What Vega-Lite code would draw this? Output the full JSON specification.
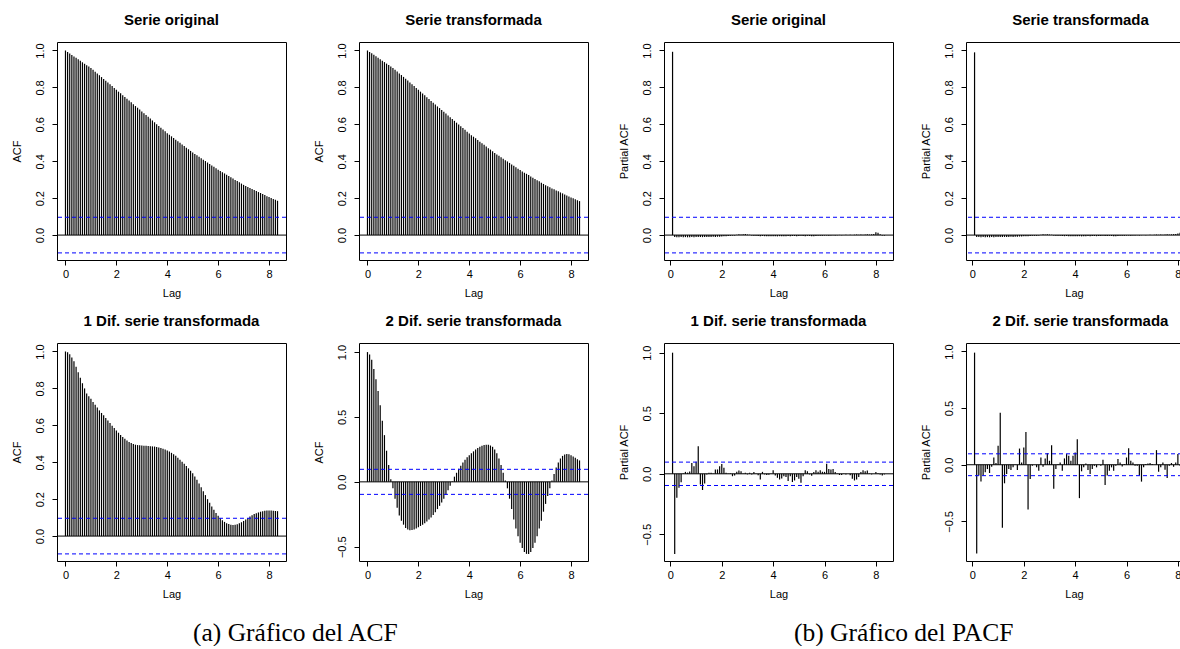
{
 "$schema": "https://vega.github.io/schema/vega-lite/v6.json",
 "background": "white",
 "autosize": {"type": "pad"},
 "padding": {"left": 10, "top": 12, "right": 0, "bottom": 0},
 "datasets": {
  "zero": [{"v": 0}],
  "ci": [{"v": 0.0965}, {"v": -0.0965}],
  "d": [
   {"lag":0,"a1":1.000,"a2":1.000,"a5":1.000,"a6":1.000},
   {"lag":0.0833,"a1":0.992,"a2":0.992,"a5":0.996,"a6":0.982,"p3":0.993,"p4":0.990,"p7":1.0,"p8":0.99},
   {"lag":0.1667,"a1":0.984,"a2":0.985,"a5":0.985,"a6":0.940,"p3":-0.011,"p4":-0.010,"p7":-0.663,"p8":-0.784},
   {"lag":0.25,"a1":0.976,"a2":0.977,"a5":0.968,"a6":0.870,"p3":-0.012,"p4":-0.011,"p7":-0.197,"p8":-0.096},
   {"lag":0.3333,"a1":0.968,"a2":0.969,"a5":0.947,"a6":0.790,"p3":-0.012,"p4":-0.012,"p7":-0.115,"p8":-0.149},
   {"lag":0.4167,"a1":0.960,"a2":0.961,"a5":0.918,"a6":0.700,"p3":-0.011,"p4":-0.011,"p7":-0.07,"p8":-0.096},
   {"lag":0.5,"a1":0.952,"a2":0.953,"a5":0.888,"a6":0.590,"p3":-0.012,"p4":-0.012,"p7":0.005,"p8":-0.067},
   {"lag":0.5833,"a1":0.944,"a2":0.945,"a5":0.858,"a6":0.470,"p3":-0.011,"p4":-0.011,"p7":0.016,"p8":-0.038},
   {"lag":0.6667,"a1":0.936,"a2":0.937,"a5":0.828,"a6":0.360,"p3":-0.012,"p4":-0.012,"p7":0.01,"p8":-0.073},
   {"lag":0.75,"a1":0.928,"a2":0.929,"a5":0.800,"a6":0.240,"p3":-0.012,"p4":-0.011,"p7":0.02,"p8":-0.018},
   {"lag":0.8333,"a1":0.920,"a2":0.921,"a5":0.773,"a6":0.130,"p3":-0.011,"p4":-0.012,"p7":0.09,"p8":0.064},
   {"lag":0.9167,"a1":0.913,"a2":0.913,"a5":0.758,"a6":0.020,"p3":-0.012,"p4":-0.011,"p7":0.063,"p8":0.015},
   {"lag":1,"a1":0.905,"a2":0.905,"a5":0.744,"a6":-0.050,"p3":-0.011,"p4":-0.011,"p7":0.1,"p8":0.167},
   {"lag":1.0833,"a1":0.895,"a2":0.896,"a5":0.727,"a6":-0.130,"p3":-0.011,"p4":-0.010,"p7":0.227,"p8":0.459},
   {"lag":1.1667,"a1":0.885,"a2":0.886,"a5":0.711,"a6":-0.200,"p3":-0.010,"p4":-0.011,"p7":-0.088,"p8":-0.556},
   {"lag":1.25,"a1":0.876,"a2":0.876,"a5":0.696,"a6":-0.260,"p3":-0.011,"p4":-0.010,"p7":-0.134,"p8":-0.164},
   {"lag":1.3333,"a1":0.866,"a2":0.867,"a5":0.681,"a6":-0.300,"p3":-0.010,"p4":-0.010,"p7":-0.08,"p8":-0.082},
   {"lag":1.4167,"a1":0.856,"a2":0.857,"a5":0.667,"a6":-0.330,"p3":-0.011,"p4":-0.010,"p7":-0.005,"p8":-0.038},
   {"lag":1.5,"a1":0.846,"a2":0.847,"a5":0.654,"a6":-0.355,"p3":-0.010,"p4":-0.009,"p7":0.008,"p8":-0.047},
   {"lag":1.5833,"a1":0.836,"a2":0.837,"a5":0.640,"a6":-0.368,"p3":-0.010,"p4":-0.010,"p7":0.008,"p8":-0.023},
   {"lag":1.6667,"a1":0.826,"a2":0.827,"a5":0.626,"a6":-0.373,"p3":-0.009,"p4":-0.009,"p7":0.003,"p8":-0.003},
   {"lag":1.75,"a1":0.817,"a2":0.817,"a5":0.612,"a6":-0.372,"p3":-0.010,"p4":-0.009,"p7":0.036,"p8":-0.047},
   {"lag":1.8333,"a1":0.807,"a2":0.807,"a5":0.598,"a6":-0.368,"p3":-0.009,"p4":-0.008,"p7":0.036,"p8":0.143},
   {"lag":1.9167,"a1":0.797,"a2":0.797,"a5":0.585,"a6":-0.360,"p3":-0.009,"p4":-0.008,"p7":0.063,"p8":0.02},
   {"lag":2,"a1":0.787,"a2":0.787,"a5":0.572,"a6":-0.350,"p3":-0.008,"p4":-0.007,"p7":0.08,"p8":0.152},
   {"lag":2.0833,"a1":0.777,"a2":0.777,"a5":0.560,"a6":-0.340,"p3":-0.007,"p4":-0.007,"p7":0.05,"p8":0.289},
   {"lag":2.1667,"a1":0.768,"a2":0.767,"a5":0.548,"a6":-0.330,"p3":-0.006,"p4":-0.006,"p7":0.008,"p8":-0.395},
   {"lag":2.25,"a1":0.758,"a2":0.757,"a5":0.537,"a6":-0.320,"p3":-0.005,"p4":-0.005,"p7":0.003,"p8":-0.126},
   {"lag":2.3333,"a1":0.748,"a2":0.747,"a5":0.527,"a6":-0.305,"p3":-0.004,"p4":-0.004,"p7":0.005,"p8":-0.009},
   {"lag":2.4167,"a1":0.738,"a2":0.737,"a5":0.518,"a6":-0.290,"p3":-0.003,"p4":-0.004,"p7":-0.02,"p8":0.0},
   {"lag":2.5,"a1":0.729,"a2":0.727,"a5":0.510,"a6":-0.275,"p3":-0.002,"p4":-0.003,"p7":-0.015,"p8":-0.023},
   {"lag":2.5833,"a1":0.719,"a2":0.717,"a5":0.504,"a6":-0.255,"p3":0.002,"p4":-0.002,"p7":0.016,"p8":-0.053},
   {"lag":2.6667,"a1":0.709,"a2":0.707,"a5":0.499,"a6":-0.235,"p3":0.005,"p4":0.002,"p7":0.027,"p8":0.064},
   {"lag":2.75,"a1":0.699,"a2":0.697,"a5":0.495,"a6":-0.210,"p3":0.003,"p4":0.004,"p7":0.022,"p8":-0.018},
   {"lag":2.8333,"a1":0.690,"a2":0.688,"a5":0.493,"a6":-0.185,"p3":0.004,"p4":0.003,"p7":0.003,"p8":0.056},
   {"lag":2.9167,"a1":0.680,"a2":0.678,"a5":0.492,"a6":-0.160,"p3":0.006,"p4":0.005,"p7":0.008,"p8":0.102},
   {"lag":3,"a1":0.670,"a2":0.668,"a5":0.491,"a6":-0.130,"p3":0.003,"p4":0.003,"p7":-0.005,"p8":0.035},
   {"lag":3.0833,"a1":0.660,"a2":0.658,"a5":0.490,"a6":-0.100,"p3":0.002,"p4":0.002,"p7":0.008,"p8":0.173},
   {"lag":3.1667,"a1":0.650,"a2":0.648,"a5":0.489,"a6":-0.065,"p3":-0.002,"p4":-0.002,"p7":-0.005,"p8":-0.213},
   {"lag":3.25,"a1":0.641,"a2":0.639,"a5":0.488,"a6":-0.030,"p3":-0.003,"p4":-0.003,"p7":0.014,"p8":-0.038},
   {"lag":3.3333,"a1":0.631,"a2":0.629,"a5":0.487,"a6":0.005,"p3":-0.004,"p4":-0.004,"p7":0.003,"p8":0.006},
   {"lag":3.4167,"a1":0.621,"a2":0.619,"a5":0.486,"a6":0.040,"p3":-0.005,"p4":-0.004,"p7":-0.012,"p8":0.02},
   {"lag":3.5,"a1":0.611,"a2":0.609,"a5":0.485,"a6":0.070,"p3":-0.006,"p4":-0.005,"p7":-0.047,"p8":-0.053},
   {"lag":3.5833,"a1":0.601,"a2":0.599,"a5":0.483,"a6":0.100,"p3":-0.005,"p4":-0.006,"p7":0.016,"p8":0.056},
   {"lag":3.6667,"a1":0.591,"a2":0.589,"a5":0.480,"a6":0.125,"p3":-0.006,"p4":-0.005,"p7":-0.005,"p8":0.094},
   {"lag":3.75,"a1":0.582,"a2":0.580,"a5":0.477,"a6":0.150,"p3":-0.007,"p4":-0.006,"p7":-0.01,"p8":0.079},
   {"lag":3.8333,"a1":0.572,"a2":0.570,"a5":0.473,"a6":0.170,"p3":-0.006,"p4":-0.007,"p7":-0.008,"p8":0.035},
   {"lag":3.9167,"a1":0.562,"a2":0.560,"a5":0.469,"a6":0.190,"p3":-0.007,"p4":-0.006,"p7":0.003,"p8":0.079},
   {"lag":4,"a1":0.552,"a2":0.550,"a5":0.464,"a6":0.205,"p3":-0.006,"p4":-0.006,"p7":0.03,"p8":0.108},
   {"lag":4.0833,"a1":0.543,"a2":0.541,"a5":0.458,"a6":0.220,"p3":-0.007,"p4":-0.007,"p7":-0.015,"p8":0.225},
   {"lag":4.1667,"a1":0.535,"a2":0.533,"a5":0.451,"a6":0.235,"p3":-0.007,"p4":-0.006,"p7":-0.033,"p8":-0.295},
   {"lag":4.25,"a1":0.526,"a2":0.524,"a5":0.443,"a6":0.250,"p3":-0.006,"p4":-0.007,"p7":-0.047,"p8":-0.058},
   {"lag":4.3333,"a1":0.517,"a2":0.515,"a5":0.435,"a6":0.260,"p3":-0.007,"p4":-0.006,"p7":-0.038,"p8":-0.023},
   {"lag":4.4167,"a1":0.508,"a2":0.506,"a5":0.425,"a6":0.270,"p3":-0.006,"p4":-0.006,"p7":-0.02,"p8":0.012},
   {"lag":4.5,"a1":0.500,"a2":0.498,"a5":0.414,"a6":0.278,"p3":-0.006,"p4":-0.005,"p7":-0.027,"p8":-0.047},
   {"lag":4.5833,"a1":0.491,"a2":0.489,"a5":0.403,"a6":0.283,"p3":-0.005,"p4":-0.006,"p7":-0.06,"p8":-0.082},
   {"lag":4.6667,"a1":0.482,"a2":0.480,"a5":0.392,"a6":0.286,"p3":-0.006,"p4":-0.005,"p7":-0.02,"p8":-0.038},
   {"lag":4.75,"a1":0.473,"a2":0.471,"a5":0.380,"a6":0.285,"p3":-0.005,"p4":-0.005,"p7":-0.068,"p8":-0.009},
   {"lag":4.8333,"a1":0.465,"a2":0.463,"a5":0.367,"a6":0.280,"p3":-0.005,"p4":-0.006,"p7":-0.055,"p8":-0.023},
   {"lag":4.9167,"a1":0.456,"a2":0.454,"a5":0.354,"a6":0.270,"p3":-0.006,"p4":-0.005,"p7":-0.027,"p8":0.0},
   {"lag":5,"a1":0.447,"a2":0.445,"a5":0.340,"a6":0.250,"p3":-0.005,"p4":-0.005,"p7":-0.04,"p8":-0.009},
   {"lag":5.0833,"a1":0.439,"a2":0.437,"a5":0.323,"a6":0.220,"p3":-0.004,"p4":-0.004,"p7":-0.074,"p8":0.044},
   {"lag":5.1667,"a1":0.432,"a2":0.430,"a5":0.305,"a6":0.180,"p3":-0.005,"p4":-0.005,"p7":-0.02,"p8":-0.178},
   {"lag":5.25,"a1":0.424,"a2":0.422,"a5":0.285,"a6":0.130,"p3":-0.006,"p4":-0.005,"p7":0.03,"p8":-0.096},
   {"lag":5.3333,"a1":0.416,"a2":0.414,"a5":0.264,"a6":0.070,"p3":-0.004,"p4":-0.004,"p7":0.022,"p8":-0.053},
   {"lag":5.4167,"a1":0.408,"a2":0.406,"a5":0.243,"a6":0.010,"p3":-0.005,"p4":-0.005,"p7":-0.005,"p8":-0.023},
   {"lag":5.5,"a1":0.401,"a2":0.399,"a5":0.222,"a6":-0.050,"p3":-0.006,"p4":-0.006,"p7":-0.016,"p8":-0.053},
   {"lag":5.5833,"a1":0.393,"a2":0.391,"a5":0.200,"a6":-0.130,"p3":-0.007,"p4":-0.006,"p7":0.014,"p8":-0.009},
   {"lag":5.6667,"a1":0.385,"a2":0.383,"a5":0.180,"a6":-0.210,"p3":-0.005,"p4":-0.005,"p7":0.03,"p8":0.05},
   {"lag":5.75,"a1":0.377,"a2":0.375,"a5":0.160,"a6":-0.290,"p3":-0.004,"p4":-0.004,"p7":0.016,"p8":0.02},
   {"lag":5.8333,"a1":0.370,"a2":0.368,"a5":0.142,"a6":-0.360,"p3":-0.003,"p4":-0.004,"p7":0.03,"p8":-0.015},
   {"lag":5.9167,"a1":0.362,"a2":0.360,"a5":0.125,"a6":-0.420,"p3":-0.004,"p4":-0.003,"p7":0.016,"p8":0.006},
   {"lag":6,"a1":0.354,"a2":0.352,"a5":0.110,"a6":-0.470,"p3":-0.003,"p4":-0.003,"p7":0.016,"p8":0.064},
   {"lag":6.0833,"a1":0.347,"a2":0.345,"a5":0.097,"a6":-0.510,"p3":-0.002,"p4":-0.002,"p7":0.082,"p8":0.146},
   {"lag":6.1667,"a1":0.340,"a2":0.338,"a5":0.086,"a6":-0.540,"p3":-0.003,"p4":-0.003,"p7":0.04,"p8":0.035},
   {"lag":6.25,"a1":0.334,"a2":0.332,"a5":0.077,"a6":-0.555,"p3":-0.002,"p4":-0.002,"p7":0.036,"p8":0.02},
   {"lag":6.3333,"a1":0.327,"a2":0.325,"a5":0.070,"a6":-0.556,"p3":-0.001,"p4":-0.002,"p7":0.04,"p8":-0.009},
   {"lag":6.4167,"a1":0.320,"a2":0.318,"a5":0.065,"a6":-0.540,"p3":-0.002,"p4":-0.001,"p7":0.014,"p8":-0.009},
   {"lag":6.5,"a1":0.313,"a2":0.311,"a5":0.061,"a6":-0.510,"p3":-0.001,"p4":-0.002,"p7":0.003,"p8":-0.096},
   {"lag":6.5833,"a1":0.306,"a2":0.304,"a5":0.060,"a6":-0.470,"p3":0.001,"p4":-0.001,"p7":-0.01,"p8":-0.149},
   {"lag":6.6667,"a1":0.299,"a2":0.297,"a5":0.061,"a6":-0.420,"p3":-0.001,"p4":0.001,"p7":-0.01,"p8":-0.023},
   {"lag":6.75,"a1":0.293,"a2":0.291,"a5":0.064,"a6":-0.360,"p3":0.001,"p4":-0.001,"p7":0.003,"p8":0.006},
   {"lag":6.8333,"a1":0.286,"a2":0.284,"a5":0.069,"a6":-0.300,"p3":0.002,"p4":0.001,"p7":-0.005,"p8":0.012},
   {"lag":6.9167,"a1":0.279,"a2":0.277,"a5":0.075,"a6":-0.230,"p3":0.001,"p4":0.002,"p7":0.0,"p8":0.015},
   {"lag":7,"a1":0.272,"a2":0.270,"a5":0.082,"a6":-0.170,"p3":0.002,"p4":0.001,"p7":-0.012,"p8":0.006},
   {"lag":7.0833,"a1":0.266,"a2":0.264,"a5":0.090,"a6":-0.110,"p3":0.001,"p4":0.002,"p7":-0.04,"p8":0.0},
   {"lag":7.1667,"a1":0.261,"a2":0.259,"a5":0.098,"a6":-0.050,"p3":0.002,"p4":0.003,"p7":-0.055,"p8":0.129},
   {"lag":7.25,"a1":0.255,"a2":0.253,"a5":0.106,"a6":0.010,"p3":0.003,"p4":0.002,"p7":-0.047,"p8":-0.061},
   {"lag":7.3333,"a1":0.250,"a2":0.248,"a5":0.113,"a6":0.060,"p3":0.002,"p4":0.003,"p7":-0.027,"p8":-0.023},
   {"lag":7.4167,"a1":0.244,"a2":0.242,"a5":0.119,"a6":0.110,"p3":0.003,"p4":0.002,"p7":0.014,"p8":0.02},
   {"lag":7.5,"a1":0.239,"a2":0.237,"a5":0.124,"a6":0.150,"p3":0.002,"p4":0.003,"p7":0.03,"p8":-0.044},
   {"lag":7.5833,"a1":0.233,"a2":0.231,"a5":0.128,"a6":0.180,"p3":0.003,"p4":0.004,"p7":0.022,"p8":-0.117},
   {"lag":7.6667,"a1":0.228,"a2":0.226,"a5":0.132,"a6":0.200,"p3":0.004,"p4":0.003,"p7":0.027,"p8":-0.009},
   {"lag":7.75,"a1":0.222,"a2":0.220,"a5":0.135,"a6":0.210,"p3":0.003,"p4":0.004,"p7":0.003,"p8":0.015},
   {"lag":7.8333,"a1":0.217,"a2":0.215,"a5":0.137,"a6":0.215,"p3":0.004,"p4":0.005,"p7":-0.005,"p8":-0.018},
   {"lag":7.9167,"a1":0.211,"a2":0.209,"a5":0.138,"a6":0.213,"p3":0.006,"p4":0.006,"p7":0.0,"p8":0.02},
   {"lag":8,"a1":0.206,"a2":0.204,"a5":0.139,"a6":0.205,"p3":0.015,"p4":0.008,"p7":0.014,"p8":0.094},
   {"lag":8.0833,"a1":0.201,"a2":0.199,"a5":0.138,"a6":0.195,"p3":0.012,"p4":0.012,"p7":0.005,"p8":-0.009},
   {"lag":8.1667,"a1":0.196,"a2":0.194,"a5":0.137,"a6":0.185,"p3":0.004,"p4":0.016,"p7":-0.005,"p8":0.02},
   {"lag":8.25,"a1":0.191,"a2":0.189,"a5":0.136,"a6":0.175,"p3":-0.002,"p4":0.010,"p7":-0.014,"p8":0.03},
   {"lag":8.3333,"a1":0.186,"a2":0.184,"a5":0.135,"a6":0.165,"p3":-0.003,"p4":0.006,"p7":-0.005,"p8":-0.01}
  ]
 },
 "hconcat": [
  {
   "bounds": "flush",
   "columns": 2,
   "spacing": {"row": 83, "column": 73},
   "title": {"text": "(a) Gráfico del ACF", "orient": "bottom", "anchor": "start", "frame": "group", "dx": 136, "offset": 21, "font": "Liberation Serif", "fontSize": 25.5, "fontWeight": "normal", "color": "black"},
   "concat": [
     {"width": 229, "height": 218, "title": "Serie original", "layer": [
       {"data": {"name": "d"}, "mark": {"type": "rule", "color": "black", "strokeWidth": 1.2},
        "encoding": {
         "x": {"field": "lag", "type": "quantitative", "scale": {"domain": [-0.3333, 8.6667], "nice": false, "zero": false}, "axis": {"values": [0, 2, 4, 6, 8], "title": "Lag"}},
         "y": {"field": "a1", "type": "quantitative", "scale": {"domain": [-0.135, 1.046], "nice": false, "zero": false}, "axis": {"values": [0, 0.2, 0.4, 0.6, 0.8, 1], "format": ".1f", "title": "ACF"}},
         "y2": {"datum": 0}}},
       {"data": {"name": "zero"}, "mark": {"type": "rule", "color": "black"}, "encoding": {"y": {"field": "v", "type": "quantitative"}}},
       {"data": {"name": "ci"}, "mark": {"type": "rule", "color": "#0000ff", "strokeDash": [4, 3]}, "encoding": {"y": {"field": "v", "type": "quantitative"}}}
     ]},
     {"width": 229, "height": 218, "title": "Serie transformada", "layer": [
       {"data": {"name": "d"}, "mark": {"type": "rule", "color": "black", "strokeWidth": 1.2},
        "encoding": {
         "x": {"field": "lag", "type": "quantitative", "scale": {"domain": [-0.3333, 8.6667], "nice": false, "zero": false}, "axis": {"values": [0, 2, 4, 6, 8], "title": "Lag"}},
         "y": {"field": "a2", "type": "quantitative", "scale": {"domain": [-0.135, 1.046], "nice": false, "zero": false}, "axis": {"values": [0, 0.2, 0.4, 0.6, 0.8, 1], "format": ".1f", "title": "ACF"}},
         "y2": {"datum": 0}}},
       {"data": {"name": "zero"}, "mark": {"type": "rule", "color": "black"}, "encoding": {"y": {"field": "v", "type": "quantitative"}}},
       {"data": {"name": "ci"}, "mark": {"type": "rule", "color": "#0000ff", "strokeDash": [4, 3]}, "encoding": {"y": {"field": "v", "type": "quantitative"}}}
     ]},
     {"width": 229, "height": 218, "title": "1 Dif. serie transformada", "layer": [
       {"data": {"name": "d"}, "mark": {"type": "rule", "color": "black", "strokeWidth": 1.2},
        "encoding": {
         "x": {"field": "lag", "type": "quantitative", "scale": {"domain": [-0.3333, 8.6667], "nice": false, "zero": false}, "axis": {"values": [0, 2, 4, 6, 8], "title": "Lag"}},
         "y": {"field": "a5", "type": "quantitative", "scale": {"domain": [-0.135, 1.046], "nice": false, "zero": false}, "axis": {"values": [0, 0.2, 0.4, 0.6, 0.8, 1], "format": ".1f", "title": "ACF"}},
         "y2": {"datum": 0}}},
       {"data": {"name": "zero"}, "mark": {"type": "rule", "color": "black"}, "encoding": {"y": {"field": "v", "type": "quantitative"}}},
       {"data": {"name": "ci"}, "mark": {"type": "rule", "color": "#0000ff", "strokeDash": [4, 3]}, "encoding": {"y": {"field": "v", "type": "quantitative"}}}
     ]},
     {"width": 229, "height": 218, "title": "2 Dif. serie transformada", "layer": [
       {"data": {"name": "d"}, "mark": {"type": "rule", "color": "black", "strokeWidth": 1.2},
        "encoding": {
         "x": {"field": "lag", "type": "quantitative", "scale": {"domain": [-0.3333, 8.6667], "nice": false, "zero": false}, "axis": {"values": [0, 2, 4, 6, 8], "title": "Lag"}},
         "y": {"field": "a6", "type": "quantitative", "scale": {"domain": [-0.61, 1.07], "nice": false, "zero": false}, "axis": {"values": [-0.5, 0, 0.5, 1], "format": ".1f", "title": "ACF"}},
         "y2": {"datum": 0}}},
       {"data": {"name": "zero"}, "mark": {"type": "rule", "color": "black"}, "encoding": {"y": {"field": "v", "type": "quantitative"}}},
       {"data": {"name": "ci"}, "mark": {"type": "rule", "color": "#0000ff", "strokeDash": [4, 3]}, "encoding": {"y": {"field": "v", "type": "quantitative"}}}
     ]}
   ]
  },
  {
   "bounds": "flush",
   "columns": 2,
   "spacing": {"row": 83, "column": 73},
   "title": {"text": "(b) Gráfico del PACF", "orient": "bottom", "anchor": "start", "frame": "group", "dx": 130, "offset": 21, "font": "Liberation Serif", "fontSize": 25.5, "fontWeight": "normal", "color": "black"},
   "concat": [
     {"width": 229, "height": 218, "title": "Serie original", "layer": [
       {"data": {"name": "d"}, "transform": [{"filter": {"field": "p3", "valid": true}}], "mark": {"type": "rule", "color": "black", "strokeWidth": 1.2},
        "encoding": {
         "x": {"field": "lag", "type": "quantitative", "scale": {"domain": [-0.25, 8.6667], "nice": false, "zero": false}, "axis": {"values": [0, 2, 4, 6, 8], "title": "Lag"}},
         "y": {"field": "p3", "type": "quantitative", "scale": {"domain": [-0.135, 1.046], "nice": false, "zero": false}, "axis": {"values": [0, 0.2, 0.4, 0.6, 0.8, 1], "format": ".1f", "title": "Partial ACF"}},
         "y2": {"datum": 0}}},
       {"data": {"name": "zero"}, "mark": {"type": "rule", "color": "black"}, "encoding": {"y": {"field": "v", "type": "quantitative"}}},
       {"data": {"name": "ci"}, "mark": {"type": "rule", "color": "#0000ff", "strokeDash": [4, 3]}, "encoding": {"y": {"field": "v", "type": "quantitative"}}}
     ]},
     {"width": 216, "height": 218, "view": {"stroke": null}, "title": {"text": "Serie transformada", "dx": 6.5},
      "resolve": {"axis": {"x": "independent"}},
      "layer": [
       {"data": {"name": "d"}, "transform": [{"filter": {"field": "p4", "valid": true}}], "mark": {"type": "rule", "color": "black", "strokeWidth": 1.2, "clip": true},
        "encoding": {
         "x": {"field": "lag", "type": "quantitative", "scale": {"domain": [-0.25, 8.1607], "nice": false, "zero": false}, "axis": {"values": [0, 2, 4, 6, 8], "title": "Lag", "domain": true, "domainColor": "black"}},
         "y": {"field": "p4", "type": "quantitative", "scale": {"domain": [-0.135, 1.046], "nice": false, "zero": false}, "axis": {"values": [0, 0.2, 0.4, 0.6, 0.8, 1], "format": ".1f", "title": "Partial ACF", "domain": true, "domainColor": "black"}},
         "y2": {"datum": 0}}},
       {"data": {"name": "zero"}, "mark": {"type": "rule", "color": "black"}, "encoding": {"y": {"field": "v", "type": "quantitative"}}},
       {"data": {"name": "ci"}, "mark": {"type": "rule", "color": "#0000ff", "strokeDash": [4, 3]}, "encoding": {"y": {"field": "v", "type": "quantitative"}}},
       {"data": {"name": "zero"}, "mark": {"type": "point", "opacity": 0}, "encoding": {"x": {"field": "v", "type": "quantitative", "axis": {"orient": "top", "labels": false, "ticks": false, "domain": true, "domainColor": "black", "title": null}}}}
     ]},
     {"width": 229, "height": 218, "title": "1 Dif. serie transformada", "layer": [
       {"data": {"name": "d"}, "transform": [{"filter": {"field": "p7", "valid": true}}], "mark": {"type": "rule", "color": "black", "strokeWidth": 1.2},
        "encoding": {
         "x": {"field": "lag", "type": "quantitative", "scale": {"domain": [-0.25, 8.6667], "nice": false, "zero": false}, "axis": {"values": [0, 2, 4, 6, 8], "title": "Lag"}},
         "y": {"field": "p7", "type": "quantitative", "scale": {"domain": [-0.72, 1.08], "nice": false, "zero": false}, "axis": {"values": [-0.5, 0, 0.5, 1], "format": ".1f", "title": "Partial ACF"}},
         "y2": {"datum": 0}}},
       {"data": {"name": "zero"}, "mark": {"type": "rule", "color": "black"}, "encoding": {"y": {"field": "v", "type": "quantitative"}}},
       {"data": {"name": "ci"}, "mark": {"type": "rule", "color": "#0000ff", "strokeDash": [4, 3]}, "encoding": {"y": {"field": "v", "type": "quantitative"}}}
     ]},
     {"width": 216, "height": 218, "view": {"stroke": null}, "title": {"text": "2 Dif. serie transformada", "dx": 6.5},
      "resolve": {"axis": {"x": "independent"}},
      "layer": [
       {"data": {"name": "d"}, "transform": [{"filter": {"field": "p8", "valid": true}}], "mark": {"type": "rule", "color": "black", "strokeWidth": 1.2, "clip": true},
        "encoding": {
         "x": {"field": "lag", "type": "quantitative", "scale": {"domain": [-0.25, 8.1607], "nice": false, "zero": false}, "axis": {"values": [0, 2, 4, 6, 8], "title": "Lag", "domain": true, "domainColor": "black"}},
         "y": {"field": "p8", "type": "quantitative", "scale": {"domain": [-0.85, 1.075], "nice": false, "zero": false}, "axis": {"values": [-0.5, 0, 0.5, 1], "format": ".1f", "title": "Partial ACF", "domain": true, "domainColor": "black"}},
         "y2": {"datum": 0}}},
       {"data": {"name": "zero"}, "mark": {"type": "rule", "color": "black"}, "encoding": {"y": {"field": "v", "type": "quantitative"}}},
       {"data": {"name": "ci"}, "mark": {"type": "rule", "color": "#0000ff", "strokeDash": [4, 3]}, "encoding": {"y": {"field": "v", "type": "quantitative"}}},
       {"data": {"name": "zero"}, "mark": {"type": "point", "opacity": 0}, "encoding": {"x": {"field": "v", "type": "quantitative", "axis": {"orient": "top", "labels": false, "ticks": false, "domain": true, "domainColor": "black", "title": null}}}}
     ]}
   ]
  }
 ],
 "spacing": 28,
 "config": {
  "view": {"stroke": "black", "strokeWidth": 1},
  "axis": {"grid": false, "domain": false, "tickColor": "black", "tickSize": 5, "labelColor": "black", "labelFont": "Liberation Sans", "labelFontSize": 11, "titleFont": "Liberation Sans", "titleFontSize": 11, "titleFontWeight": "normal", "titleColor": "black", "labelFlush": false, "labelOverlap": false},
  "axisX": {"labelPadding": 3, "titlePadding": 8},
  "axisY": {"labelAngle": -90, "labelAlign": "center", "labelBaseline": "bottom", "labelPadding": 7, "titlePadding": 12},
  "title": {"font": "Liberation Sans", "fontSize": 15, "fontWeight": "bold", "color": "black", "offset": 14, "frame": "group"}
 }
}
